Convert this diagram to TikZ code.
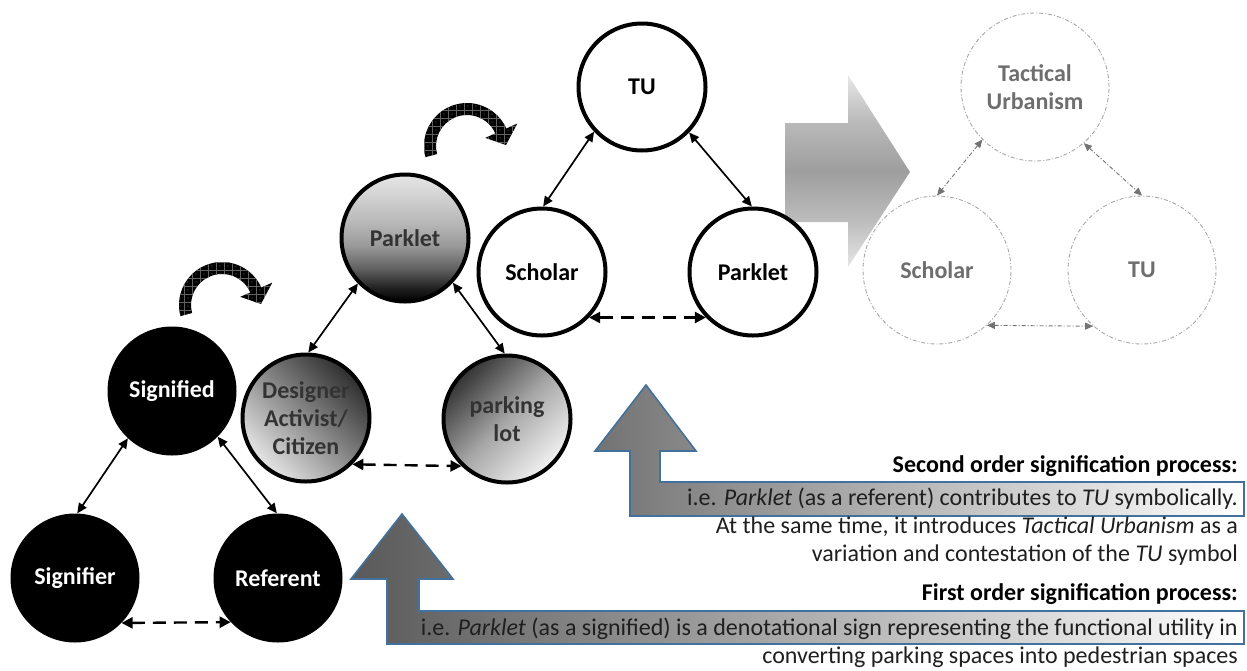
\documentclass[tikz,border=0pt]{standalone}
\usepackage{fontspec}
\setmainfont{Carlito}
\usetikzlibrary{arrows.meta,patterns}
\definecolor{upblue}{HTML}{41719C}
\pgfdeclareverticalshading{bigarr}{100bp}{color(0bp)=(black!10); color(25bp)=(black!10); color(37bp)=(black!26); color(50bp)=(black!38); color(63bp)=(black!27); color(75bp)=(black!9); color(100bp)=(black!9)}
\pgfdeclareverticalshading{pkshade}{100bp}{color(0bp)=(black); color(25bp)=(black); color(30bp)=(black!88); color(38bp)=(black!62); color(47bp)=(black!40); color(56bp)=(black!28); color(66bp)=(black!18); color(75bp)=(black!10); color(100bp)=(black!10)}
\pgfdeclarepatternformonly{mydotgrid}{\pgfqpoint{-1pt}{-1pt}}{\pgfqpoint{9pt}{9pt}}{\pgfqpoint{8pt}{8pt}}{%
  \pgfsetlinewidth{0.2pt}%
  \pgfpathmoveto{\pgfqpoint{0pt}{0pt}}\pgfpathlineto{\pgfqpoint{8pt}{0pt}}%
  \pgfpathmoveto{\pgfqpoint{0pt}{0pt}}\pgfpathlineto{\pgfqpoint{0pt}{8pt}}%
  \pgfusepath{stroke}%
  \pgfpathcircle{\pgfqpoint{4pt}{4pt}}{0.6pt}\pgfusepath{fill}}
\newcommand\myCurvArrow[1]{%
  \begin{scope}[shift={#1}]
    \fill[black] (165:43) arc[start angle=165,end angle=336,radius=43] -- (336:55) -- (39,-1) -- (336:20) -- (336:31) arc[start angle=336,end angle=165,radius=31] -- cycle;
    \fill[pattern=mydotgrid, pattern color=black!62] (165:43) arc[start angle=165,end angle=336,radius=43] -- (336:55) -- (39,-1) -- (336:20) -- (336:31) arc[start angle=336,end angle=165,radius=31] -- cycle;
  \end{scope}}
\begin{document}
\begin{tikzpicture}[x=1pt,y=-1pt,
  lbl/.style={font=\fontsize{24}{28}\selectfont\bfseries, align=center},
  blk/.style={circle, fill=black, minimum size=129pt, inner sep=0pt, lbl, text=white},
  wht/.style={circle, draw=black, line width=4pt, fill=white, minimum size=127pt, inner sep=0pt, lbl},
  grd/.style={circle, draw=black, line width=4pt, minimum size=127pt, inner sep=0pt, lbl, text=black!80},
  fad/.style={circle, draw=black!35, line width=0.9pt, dash pattern=on 4pt off 2pt on 1pt off 2pt, minimum size=148pt, inner sep=0pt, lbl, text=black!57},
  dbl/.style={line width=1.7pt, {Triangle[length=10pt,width=9pt]}-{Triangle[length=10pt,width=9pt]}},
  dsh/.style={line width=2.4pt, dash pattern=on 13pt off 8pt, {Triangle[length=11pt,width=11pt]}-{Triangle[length=11pt,width=11pt]}},
  fdar/.style={line width=0.9pt, draw=black!55, dash pattern=on 4pt off 2pt on 1pt off 2pt, {Triangle[length=8pt,width=7pt]}-{Triangle[length=8pt,width=7pt]}},
  uparr/.style={draw=upblue, line width=1.6pt},
  txt/.style={font=\fontsize{24}{29}\selectfont, anchor=base east, inner sep=0pt, text=black!88},
]
\useasboundingbox (0,0) rectangle (1247,670);

% big right arrow
\path[shading=bigarr] (785,123) -- (848,123) -- (848,75) -- (910,172) -- (848,267) -- (848,222) -- (785,222) -- cycle;

% up arrows
\draw[uparr, left color=black!55, right color=white] (630,516) -- (630,451) -- (595,451) -- (646,385) -- (696,451) -- (660,451) -- (660,482) -- (1244,482) -- (1244,516) -- cycle;
\draw[uparr, left color=black!65, right color=white] (387,644) -- (387,579) -- (351,579) -- (402,514) -- (453,579) -- (419,579) -- (419,611) -- (1244,611) -- (1244,644) -- cycle;

% curved arrows
\myCurvArrow{(222,305)}
\myCurvArrow{(467,146)}

% first triangle
\node[blk] (sgd) at (172,391) {Signified};
\node[blk] (sgr) at (75,578) {Signifier};
\node[blk] (ref) at (278,578) {Referent};

% second triangle
\node[grd, shading=pkshade] (pk1) at (405,238) {Parklet};
\node[grd, top color=black!82, bottom color=black!10, shading angle=-45] (des) at (306,418) {Designer\\Activist/\\Citizen};
\node[grd, top color=black!80, bottom color=black!5, middle color=black!35, shading angle=45] (pkl) at (507,419) {parking\\lot};

% third triangle
\node[wht] (tu) at (642,87) {TU};
\node[wht] (sch) at (542,272) {Scholar};
\node[wht] (pk2) at (753,272) {Parklet};

% faded triangle
\node[fad] (ftu) at (1035,87) {Tactical\\Urbanism};
\node[fad] (fsch) at (937,270) {Scholar};
\node[fad] (ftu2) at (1142,270) {TU};

% connectors
\draw[dbl] (sgd.227) -- (sgr.88);
\draw[dbl] (sgd.315) -- (ref.91);
\draw[dsh] (sgr.-44) -- (ref.223);

\draw[dbl] (pk1.224) -- (des.88);
\draw[dbl] (pk1.-43) -- (pkl.92);
\draw[dsh] (des.-45) -- (pkl.226);

\draw[dbl] (tu.223) -- (sch.89);
\draw[dbl] (tu.-44) -- (pk2.91);
\draw[dsh] (sch.-44) -- (pk2.224);

\draw[fdar] (ftu.225) -- (fsch.90);
\draw[fdar] (ftu.-49) -- (ftu2.90);
\draw[fdar] (fsch.-48) -- (ftu2.229);

% texts
\node[txt, font=\fontsize{24}{29}\selectfont\bfseries, text=black] (t1) at (1238,472) {Second order signification process:};
\node[txt] (t2) at (1238,505) {i.e. \textit{Parklet} (as a referent) contributes to \textit{TU} symbolically.};
\node[txt] (t3) at (1238,533) {At the same time, it introduces \textit{Tactical Urbanism} as a};
\node[txt] (t4) at (1238,561) {variation and contestation of the \textit{TU} symbol};
\node[txt, font=\fontsize{24}{29}\selectfont\bfseries, text=black] (t5) at (1238,600) {First order signification process:};
\node[txt] (t6) at (1238,635) {i.e. \textit{Parklet} (as a signified) is a denotational sign representing the functional utility in};
\node[txt] (t7) at (1238,663) {converting parking spaces into pedestrian spaces};
\end{tikzpicture}
\end{document}
